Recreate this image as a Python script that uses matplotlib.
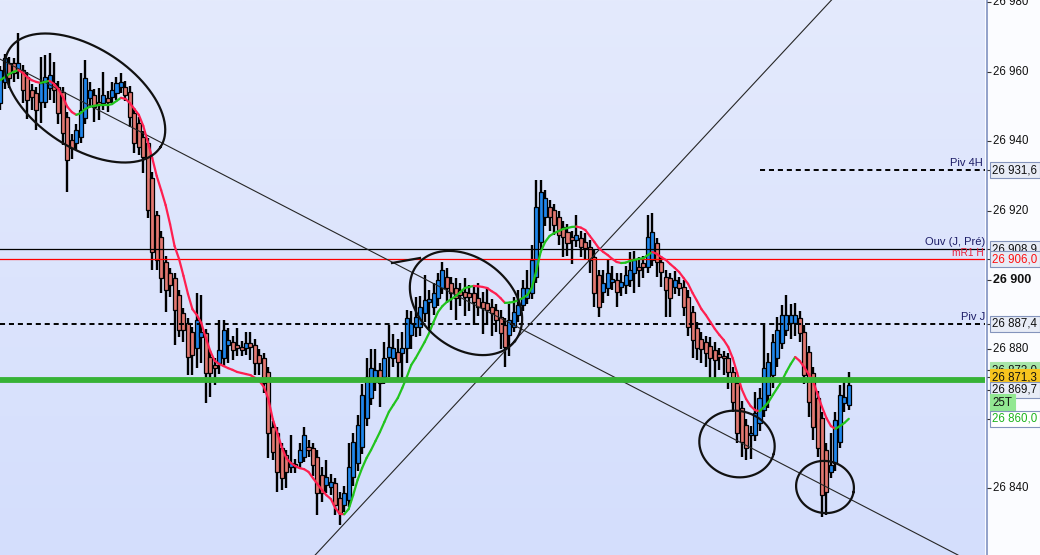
import numpy as np
import matplotlib
matplotlib.use('Agg')
import matplotlib.pyplot as plt
from matplotlib.collections import LineCollection

plt.rcParams['font.family'] = ['Liberation Sans', 'DejaVu Sans']

# --- candle data (one entry per bar) ---
opens = [
    26950.9, 26957.2, 26962.5, 26962.5, 26960.7, 26960.5, 26958.6, 26954.8, 26953.8, 26951.4,
    26951.4, 26955.3, 26956.7, 26955.7, 26954.3, 26947.1, 26940.4, 26939.4, 26941.3, 26946.6,
    26952.4, 26953.3, 26951.4, 26950.9, 26952.4, 26952.8, 26953.8, 26955.7, 26955.7, 26954.3,
    26948.0, 26945.2, 26941.3, 26939.4, 26929.3, 26918.7, 26912.5, 26905.3, 26901.9, 26900.5,
    26895.7, 26890.4, 26887.5, 26885.1, 26880.3, 26883.7, 26884.6, 26877.9, 26875.5, 26876.0,
    26877.4, 26881.3, 26882.2, 26881.3, 26880.8, 26880.3, 26881.8, 26881.3, 26878.4, 26877.4,
    26873.6, 26857.7, 26855.8, 26851.5, 26849.6, 26846.2, 26846.7, 26847.6, 26849.1, 26852.0,
    26851.5, 26849.1, 26843.8, 26840.9, 26840.4, 26841.4, 26837.1, 26835.2, 26836.6, 26843.3,
    26847.2, 26852.0, 26860.1, 26865.9, 26870.7, 26874.1, 26872.1, 26877.9, 26877.4, 26879.3,
    26878.9, 26880.3, 26884.1, 26886.6, 26886.6, 26890.4, 26893.8, 26892.3, 26894.7, 26897.6,
    26901.0, 26899.0, 26897.6, 26897.1, 26896.6, 26896.2, 26896.2, 26894.7, 26893.8, 26893.3,
    26892.3, 26891.4, 26889.4, 26887.0, 26884.1, 26886.6, 26890.0, 26892.8, 26894.7, 26896.2,
    26901.0, 26911.1, 26918.2, 26921.1, 26920.2, 26918.2, 26915.4, 26913.9, 26912.5, 26911.5,
    26912.0, 26911.1, 26909.6, 26906.7, 26901.4, 26896.6, 26897.6, 26899.5, 26900.0, 26898.1,
    26898.6, 26900.0, 26902.0, 26903.8, 26904.8, 26903.8, 26905.8, 26910.6, 26905.3, 26901.0,
    26900.5, 26898.1, 26899.0, 26898.1, 26895.2, 26890.9, 26886.1, 26883.0, 26882.0, 26881.0,
    26879.8, 26878.4, 26877.9, 26877.4, 26873.6, 26870.2, 26863.0, 26858.2, 26855.3, 26855.3,
    26858.7, 26862.5, 26866.9, 26872.6, 26877.4, 26881.8, 26885.6, 26887.7, 26887.7, 26889.0,
    26885.1, 26879.3, 26873.1, 26865.9, 26860.1, 26851.0, 26844.8, 26847.2, 26853.4, 26864.5,
    26864.0,
]
highs = [
    26961.7, 26965.0, 26964.2, 26964.0, 26971.1, 26962.0, 26960.0, 26956.5, 26955.5, 26964.4,
    26964.9, 26965.3, 26962.9, 26957.5, 26955.5, 26948.5, 26942.0, 26945.0, 26959.6, 26963.4,
    26957.0, 26955.0, 26955.3, 26960.0, 26954.5, 26957.0, 26958.5, 26959.6, 26957.5, 26956.0,
    26949.5, 26947.0, 26943.0, 26941.0, 26931.0, 26920.0, 26914.0, 26907.0, 26903.5, 26902.0,
    26897.0, 26892.0, 26889.0, 26886.5, 26896.2, 26895.7, 26886.0, 26879.5, 26877.5, 26888.5,
    26888.5, 26886.2, 26884.0, 26886.2, 26882.5, 26885.1, 26885.1, 26883.0, 26880.0, 26879.0,
    26875.0, 26859.5, 26857.5, 26853.0, 26851.0, 26855.3, 26848.5, 26853.0, 26857.7, 26854.0,
    26853.0, 26851.0, 26846.0, 26848.0, 26844.0, 26843.0, 26839.0, 26840.5, 26852.9, 26856.0,
    26861.0, 26870.0, 26877.5, 26880.0, 26880.0, 26876.0, 26882.0, 26887.0, 26884.5, 26883.0,
    26885.0, 26891.4, 26891.0, 26895.0, 26895.5, 26901.5, 26897.0, 26899.0, 26902.0, 26905.3,
    26903.5, 26901.0, 26900.5, 26899.0, 26900.5, 26898.5, 26898.0, 26899.0, 26896.5, 26898.0,
    26894.5, 26893.0, 26891.5, 26889.0, 26893.0, 26895.0, 26897.0, 26900.0, 26903.0, 26910.0,
    26928.8, 26928.8, 26925.9, 26923.0, 26922.0, 26920.0, 26917.0, 26916.0, 26914.0, 26918.7,
    26914.0, 26913.5, 26911.5, 26909.0, 26903.0, 26903.0, 26906.0, 26904.0, 26902.0, 26902.0,
    26904.0, 26908.0, 26908.5, 26906.5, 26907.0, 26918.7, 26919.2, 26912.0, 26907.0, 26903.0,
    26902.0, 26902.5, 26901.0, 26900.0, 26897.0, 26892.5, 26888.0, 26885.0, 26884.0, 26883.5,
    26882.0, 26880.5, 26879.5, 26879.0, 26875.0, 26872.0, 26865.0, 26860.0, 26858.0, 26867.8,
    26869.0, 26887.0, 26879.0, 26884.5, 26889.4, 26892.8, 26895.7, 26893.0, 26893.5, 26891.0,
    26887.0, 26881.0, 26875.0, 26868.0, 26862.0, 26853.0, 26856.0, 26862.0, 26869.7, 26870.7,
    26873.6,
]
lows = [
    26949.0, 26955.0, 26955.3, 26957.0, 26958.0, 26951.0, 26946.5, 26949.0, 26943.2, 26945.2,
    26949.5, 26951.9, 26951.0, 26945.0, 26938.9, 26925.5, 26935.0, 26937.5, 26939.5, 26945.0,
    26950.0, 26945.6, 26946.1, 26949.0, 26948.5, 26951.0, 26952.0, 26954.0, 26951.5, 26944.2,
    26936.5, 26936.0, 26930.8, 26918.0, 26902.9, 26902.9, 26896.2, 26890.9, 26895.2, 26881.3,
    26883.5, 26882.2, 26872.6, 26872.6, 26874.6, 26876.2, 26864.5, 26866.4, 26869.7, 26873.0,
    26875.0, 26876.1, 26877.0, 26878.0, 26878.0, 26878.5, 26876.9, 26872.6, 26872.6, 26867.4,
    26848.6, 26848.0, 26839.0, 26839.5, 26840.0, 26844.5, 26844.5, 26845.5, 26847.5, 26849.0,
    26843.5, 26832.3, 26836.0, 26838.5, 26838.0, 26832.3, 26829.4, 26833.0, 26834.5, 26840.5,
    26845.0, 26850.0, 26858.0, 26864.0, 26868.0, 26863.5, 26870.0, 26872.0, 26875.0, 26870.7,
    26871.0, 26876.0, 26880.0, 26883.5, 26884.0, 26888.0, 26885.5, 26890.0, 26892.5, 26896.0,
    26893.5, 26891.5, 26888.5, 26892.5, 26889.5, 26891.0, 26887.0, 26889.5, 26884.5, 26887.0,
    26884.0, 26885.0, 26880.0, 26874.8, 26878.0, 26885.0, 26888.0, 26891.0, 26893.0, 26894.5,
    26899.0, 26909.0, 26915.5, 26914.0, 26913.0, 26910.0, 26906.5, 26907.0, 26904.5, 26909.5,
    26906.5, 26906.0, 26902.0, 26892.3, 26889.4, 26893.5, 26895.5, 26897.0, 26892.3, 26895.5,
    26896.0, 26898.0, 26896.3, 26898.0, 26900.5, 26902.0, 26904.0, 26901.0, 26898.0, 26889.4,
    26889.4, 26896.0, 26895.5, 26889.5, 26884.0, 26877.5, 26877.0, 26876.0, 26875.0, 26871.0,
    26871.5, 26874.0, 26872.5, 26868.5, 26862.0, 26853.0, 26849.0, 26848.1, 26848.5, 26853.5,
    26856.5, 26860.5, 26863.0, 26869.0, 26875.0, 26880.0, 26884.0, 26883.0, 26884.0, 26882.0,
    26870.0, 26860.6, 26853.9, 26849.0, 26831.8, 26832.3, 26843.0, 26845.0, 26851.5, 26862.0,
    26862.5,
]
closes = [
    26960.5, 26963.9, 26958.2, 26959.6, 26962.6, 26954.8, 26951.9, 26952.8, 26949.0, 26956.7,
    26958.6, 26959.1, 26954.8, 26948.0, 26942.3, 26934.6, 26938.0, 26943.2, 26949.0, 26958.1,
    26954.8, 26949.9, 26950.4, 26953.3, 26951.4, 26954.8, 26956.7, 26957.2, 26953.3, 26947.1,
    26939.4, 26938.4, 26935.5, 26920.2, 26908.2, 26905.8, 26900.5, 26897.1, 26898.6, 26891.4,
    26885.6, 26885.6, 26877.9, 26878.4, 26888.5, 26885.1, 26873.1, 26873.1, 26874.6, 26879.8,
    26885.6, 26882.7, 26879.8, 26880.3, 26879.8, 26881.8, 26880.8, 26876.0, 26876.0, 26870.2,
    26855.8, 26850.5, 26844.8, 26842.9, 26844.8, 26847.2, 26846.2, 26851.0, 26855.3, 26851.0,
    26846.7, 26838.5, 26838.5, 26843.3, 26841.9, 26835.2, 26832.8, 26838.5, 26846.2, 26853.4,
    26858.2, 26866.9, 26872.1, 26874.6, 26874.1, 26870.2, 26877.4, 26880.8, 26880.3, 26876.5,
    26880.3, 26889.0, 26887.5, 26889.4, 26892.3, 26894.2, 26894.2, 26896.2, 26900.0, 26902.9,
    26897.6, 26896.2, 26894.7, 26895.7, 26895.2, 26895.2, 26893.8, 26892.3, 26891.9, 26891.4,
    26890.4, 26888.5, 26884.6, 26880.8, 26888.5, 26890.9, 26892.8, 26897.6, 26897.6, 26905.8,
    26921.1, 26925.4, 26923.6, 26918.2, 26915.9, 26913.0, 26912.5, 26910.6, 26911.5, 26913.0,
    26909.6, 26909.1, 26905.8, 26896.2, 26892.3, 26899.0, 26901.9, 26900.0, 26896.6, 26899.5,
    26901.4, 26902.9, 26905.8, 26902.9, 26903.8, 26912.5, 26913.9, 26905.3, 26902.4, 26897.1,
    26894.7, 26900.0, 26897.6, 26892.3, 26886.6, 26882.7, 26880.3, 26880.0, 26879.0, 26877.5,
    26876.9, 26877.9, 26877.4, 26873.6, 26864.9, 26855.8, 26853.4, 26851.5, 26855.8, 26861.6,
    26865.9, 26874.6, 26876.5, 26882.2, 26885.6, 26889.9, 26889.9, 26889.9, 26889.9, 26884.6,
    26872.6, 26864.9, 26857.7, 26851.5, 26838.0, 26839.0, 26846.7, 26859.7, 26866.9, 26866.4,
    26869.7,
]
# moving average line (red when falling, green when rising)
ma_values = [
    26957.6, 26958.5, 26959.4, 26960.0, 26960.5, 26959.7, 26958.5, 26957.6, 26957.1, 26956.8,
    26957.1, 26957.4, 26956.5, 26955.0, 26952.7, 26949.9, 26948.4, 26947.6, 26948.1, 26949.3,
    26949.9, 26950.2, 26950.4, 26950.4, 26950.4, 26950.7, 26951.6, 26952.5, 26952.2, 26951.0,
    26949.3, 26947.6, 26944.4, 26939.8, 26935.2, 26930.0, 26925.9, 26921.6, 26916.1, 26909.8,
    26906.1, 26901.2, 26896.0, 26891.6, 26889.9, 26887.6, 26883.3, 26879.5, 26876.7, 26875.8,
    26875.2, 26874.6, 26874.1, 26873.5, 26873.2, 26872.9, 26872.6, 26871.8, 26870.9, 26869.2,
    26865.7, 26859.9, 26855.9, 26851.9, 26848.7, 26847.3, 26846.4, 26845.8, 26845.5, 26844.7,
    26842.9, 26841.2, 26839.5, 26838.0, 26836.9, 26834.3, 26832.6, 26832.5, 26834.0, 26838.0,
    26842.4, 26845.8, 26848.7, 26851.0, 26853.6, 26856.2, 26859.1, 26862.0, 26864.0, 26866.0,
    26868.9, 26872.0, 26875.5, 26877.5, 26879.8, 26882.1, 26884.7, 26887.9, 26890.8, 26892.5,
    26893.7, 26894.5, 26895.4, 26896.5, 26897.7, 26898.0, 26898.3, 26898.2, 26898.0, 26897.7,
    26896.8, 26896.0, 26894.8, 26893.4, 26893.5, 26893.7, 26894.2, 26894.8, 26895.7, 26897.7,
    26902.6, 26908.1, 26911.0, 26912.7, 26913.5, 26914.1, 26914.7, 26915.0, 26915.3, 26915.4,
    26915.1, 26914.4, 26912.7, 26911.0, 26909.2, 26908.1, 26907.2, 26906.1, 26905.2, 26904.9,
    26905.0, 26905.5, 26905.8, 26906.1, 26906.3, 26907.2, 26908.1, 26907.5, 26906.6, 26905.8,
    26904.6, 26903.5, 26902.3, 26900.6, 26898.9, 26896.3, 26894.0, 26891.6, 26889.9, 26887.9,
    26885.9, 26884.2, 26882.7, 26880.7, 26877.5, 26873.2, 26868.6, 26865.7, 26863.7, 26862.5,
    26862.2, 26863.4, 26864.8, 26866.9, 26868.9, 26870.9, 26873.5, 26875.8, 26877.8, 26876.7,
    26874.9, 26872.9, 26870.9, 26867.1, 26863.4, 26860.2, 26857.9, 26857.1, 26857.9, 26858.8,
    26860.0,
]

# horizontal levels
piv_4h = 26931.6
ouv_j_pre = 26908.9
mr1_h = 26906.0
piv_j = 26887.4
green_level = 26871.3
last_price = 26869.7
ma_last = 26860.0
hidden_level = 26873.0

y_ticks = [26980, 26960, 26940, 26920, 26900, 26880, 26840]

BLUE = '#1f86ec'
RED = '#e27871'
MA_RED = '#ff1f4f'
MA_GREEN = '#22c41e'

W, H = 1040, 555
YMIN, YMAX = 26820.75, 26980.7
XMIN, XMAX = -0.09, 220.5

fig = plt.figure(figsize=(W / 100, H / 100), dpi=100)
ax = fig.add_axes([0, 0, 985 / W, 1])
ax_r = fig.add_axes([985 / W, 0, 55 / W, 1])

ax.set_xlim(XMIN, XMAX)
ax.set_ylim(YMIN, YMAX)
ax.axis('off')

# background gradient
t = np.linspace(0, 1, 256).reshape(-1, 1, 1)
top = np.array([228, 234, 252]) / 255
bot = np.array([212, 222, 253]) / 255
ax.imshow(top + (bot - top) * t, extent=[XMIN, XMAX, YMIN, YMAX],
          aspect='auto', origin='upper', zorder=0)

# candles
o = np.array(opens)
c = np.array(closes)
hi = np.array(highs)
lo = np.array(lows)
idx = np.arange(len(c))
up = c >= o
ax.vlines(idx, np.minimum(lo, np.minimum(o, c)), np.maximum(hi, np.maximum(o, c)),
          color='black', lw=1.7, zorder=2)
body_lo = np.minimum(o, c)
body_h = np.maximum(np.abs(c - o), 0.7)
ax.bar(idx, body_h, bottom=body_lo, width=0.9, color=np.where(up, BLUE, RED),
       edgecolor='black', linewidth=0.9, zorder=3)

# level lines
ax.axhline(ouv_j_pre, color='black', lw=0.9, zorder=4)
ax.axhline(mr1_h, color='#ff0000', lw=0.9, zorder=4)
ax.axhline(piv_j, color='black', lw=1.4, ls=(0, (2.6, 2.0)), zorder=4)
ax.hlines(piv_4h, 170, XMAX, color='black', lw=1.4, ls=(0, (2.6, 2.0)), zorder=4)
ax.axhline(green_level, color='#36b236', lw=4.2, zorder=6)

# trend lines
ax.axline((0, 26963.6), (195, 26833.7), color='#262626', lw=0.8, zorder=5)
ax.axline((76.1, 26828.5), (145.5, 26924.5), color='#262626', lw=0.8, zorder=5)

# moving average coloured by direction
ma = np.array(ma_values)
pts = np.column_stack([idx, ma])
segs = np.stack([pts[:-1], pts[1:]], axis=1)
seg_cols = np.where(np.diff(ma) >= 0, MA_GREEN, MA_RED)
ax.add_collection(LineCollection(segs, colors=seg_cols, linewidths=1.6,
                                 capstyle='round', zorder=5))

# hand drawn circles (screen pixels, image origin top-left)
inv = ax.transData.inverted()


def px_to_data(xs, ys):
    return inv.transform(np.column_stack([xs, H - np.asarray(ys)]))


def freehand(cx, cy, a, b, ang):
    th = np.radians(ang)
    tt = np.linspace(0, 2 * np.pi, 300)
    xs = cx + a * np.cos(tt) * np.cos(th) - b * np.sin(tt) * np.sin(th)
    ys = cy + a * np.cos(tt) * np.sin(th) + b * np.sin(tt) * np.cos(th)
    d = px_to_data(xs, ys)
    ax.plot(d[:, 0], d[:, 1], color='#111111', lw=1.6, zorder=7)


freehand(85, 98, 90, 50, 33)
freehand(466, 303, 62, 45, 38)
freehand(737, 444, 38, 33, 15)
freehand(825, 487, 29, 26, 10)
tail = px_to_data([392, 420], [263, 258])
ax.plot(tail[:, 0], tail[:, 1], color='#111111', lw=1.6, zorder=7)

# level captions on the chart
navy = '#1c1c66'
ax.text(XMAX - 0.5, piv_4h + 0.6, 'Piv 4H', ha='right', va='bottom', fontsize=8, color=navy, zorder=8)
ax.text(XMAX, ouv_j_pre + 0.6, 'Ouv (J, Pré)', ha='right', va='bottom', fontsize=8, color=navy, zorder=8)
ax.text(XMAX - 0.3, mr1_h + 0.4, 'mR1 H', ha='right', va='bottom', fontsize=7.3, color='#e8203c', zorder=8)
ax.text(XMAX, piv_j + 0.6, 'Piv J', ha='right', va='bottom', fontsize=8, color=navy, zorder=8)

# right price axis
ax_r.set_xlim(0, 55)
ax_r.set_ylim(YMIN, YMAX)
ax_r.axis('off')
ax_r.add_patch(plt.Rectangle((0, YMIN), 55, YMAX - YMIN, color='#fbfcff', zorder=0))
ax_r.axvline(1.8, color='#8a9ac6', lw=1.3, zorder=1)

for p in y_ticks:
    ax_r.hlines(p, 2, 6, color='#333333', lw=0.8)
    bold = p == 26900
    ax_r.text(8, p, f'{p // 1000} {p % 1000:03d}', ha='left', va='center',
              fontsize=9 if bold else 8.3, fontweight='bold' if bold else 'normal',
              color='#111111')


def price_box(y, txt, fg='#111111', bg='#e8ecf6', ec='#8494bc', z=3):
    ax_r.hlines(y, 2, 6, color='#333333', lw=0.8, zorder=z)
    ax_r.text(7.5, y, txt, ha='left', va='center', fontsize=8.3, color=fg, zorder=z,
              bbox=dict(boxstyle='square,pad=0.18', fc=bg, ec=ec, lw=0.8))


def fmt(v):
    s = f'{v:.1f}'.replace('.', ',')
    return s[:2] + ' ' + s[2:]


price_box(piv_4h, fmt(piv_4h))
price_box(ouv_j_pre, fmt(ouv_j_pre))
price_box(mr1_h, fmt(mr1_h), fg='#ff1010')
price_box(piv_j, fmt(piv_j))
price_box(26874.0, fmt(hidden_level), bg='#a8e6a8', ec='#a8e6a8', z=3)
price_box(26872.0, fmt(green_level), bg='#f7c41e', ec='#f7c41e', z=4)
price_box(26868.4, fmt(last_price), z=5)
ax_r.text(7.5, 26864.6, '25T', ha='left', va='center', fontsize=8.3, color='#111111', zorder=5,
          bbox=dict(boxstyle='square,pad=0.25', fc='#92e892', ec='#92e892', lw=0.8))
price_box(ma_last, fmt(ma_last), fg='#1db41d', bg='#ffffff', z=5)

fig.savefig('out.png', dpi=100)
